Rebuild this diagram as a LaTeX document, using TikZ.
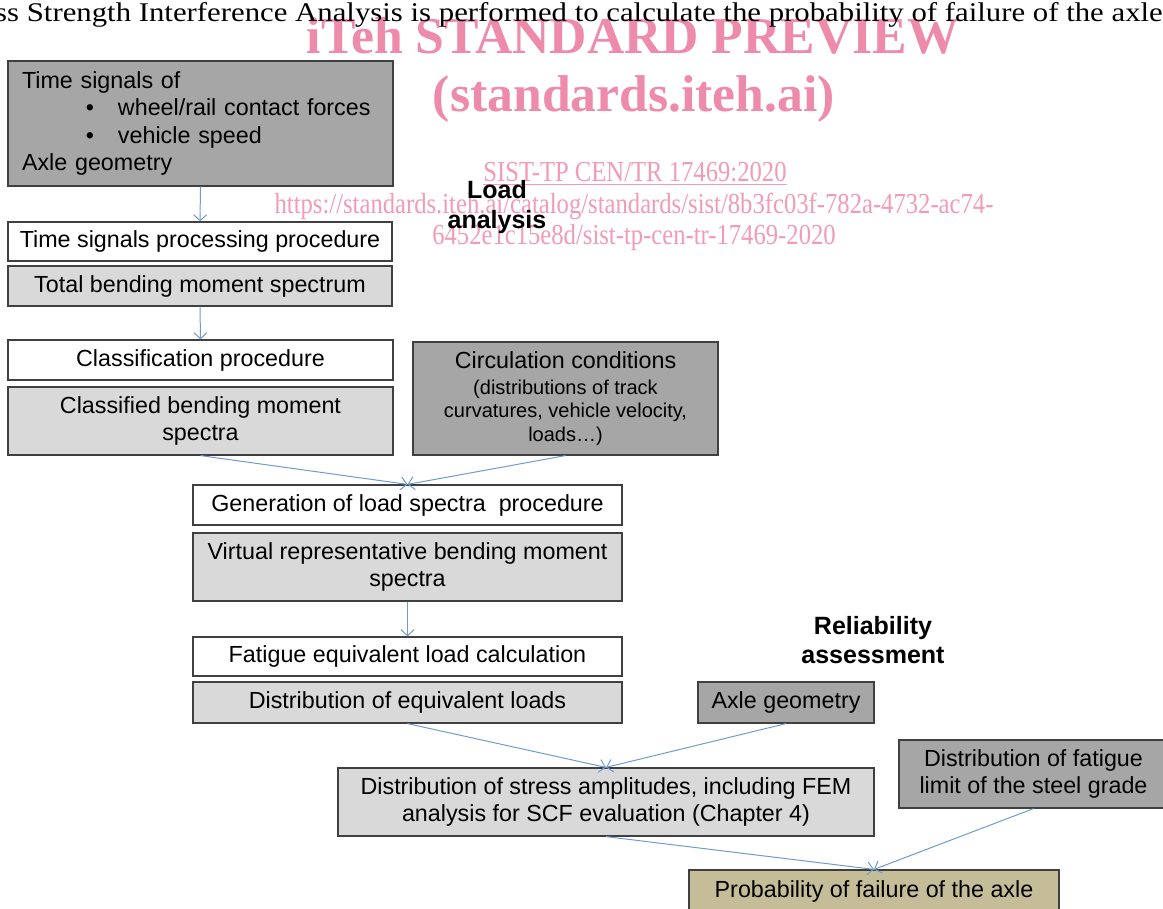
\documentclass[tikz,border=0pt]{standalone}
\usepackage{fontspec}
\setmainfont{Liberation Sans}
\newfontfamily\timesfont{Liberation Serif}
\newfontfamily\linkfont[FakeStretch=0.85]{Liberation Serif}
\newfontfamily\introfont[FakeStretch=1.14]{Liberation Serif}
\usetikzlibrary{arrows.meta, positioning}
\definecolor{darkbox}{HTML}{A6A6A6}
\definecolor{lightbox}{HTML}{D9D9D9}
\definecolor{khakibox}{HTML}{C4BD97}
\definecolor{flowblue}{HTML}{6F9BD1}
\definecolor{wmpink}{HTML}{EE8AAA}
\definecolor{wmlink}{HTML}{F29BB5}
\newcommand{\subsize}{\fontsize{20}{23.5}\selectfont}
\tikzset{
	box/.style = {draw=black!75, line width=1.2pt, inner sep=0pt, align=center,
		font=\fontsize{23.3}{27.5}\selectfont},
	procbox/.style = {box, fill=white},
	resbox/.style = {box, fill=lightbox},
	databox/.style = {box, fill=darkbox},
	flow/.style = {->, flowblue, line width=1pt},
	heading/.style = {align=center, inner sep=0pt, font=\bfseries\fontsize{25}{29.5}\selectfont},
	wmbig/.style = {wmpink, inner sep=0pt, anchor=base, font=\timesfont\bfseries\fontsize{51.7}{58}\selectfont},
	wmsmall/.style = {wmlink, inner sep=0pt, anchor=base, font=\linkfont\fontsize{29}{31}\selectfont},
}

\begin{document}
\begin{tikzpicture}[x=1pt, y=-1pt, >={Straight Barb[length=6pt, width=13pt]}]
	\clip (0,0) rectangle (1163,909);
	\fill[white] (0,0) rectangle (1163,909);
	%%% Watermark
	\node[wmbig] (wmtitle) at (633,54) {iTeh STANDARD PREVIEW};
	\node[wmbig] (wmsite) at (634,112) {(standards.iteh.ai)};
	\node[wmsmall] (wmref) at (635,182) {\underline{SIST-TP CEN/TR 17469:2020}};
	\node[wmsmall] (wmurl) at (634,214) {https://standards.iteh.ai/catalog/standards/sist/8b3fc03f-782a-4732-ac74-};
	\node[wmsmall] (wmurlb) at (634,245) {6452e1c15e8d/sist-tp-cen-tr-17469-2020};
	\node[anchor=base west, inner sep=0pt, font=\introfont\fontsize{27}{30}\selectfont] (intro) at (-5,22)
		{ss Strength Interference Analysis is performed to calculate the probability of failure of the axle};
	%%% Load analysis
	\node[databox, minimum width=385pt, minimum height=125pt, text width=357pt, align=left] (inp) at (200.5,123.5)
		{Time signals of\\
		\makebox[96pt][l]{\hspace*{64pt}\textbullet}wheel/rail contact forces\\
		\makebox[96pt][l]{\hspace*{64pt}\textbullet}vehicle speed\\
		Axle geometry};
	\node[procbox, minimum width=384pt, minimum height=39pt] (tsp) at (200,241.5) {Time signals processing procedure};
	\node[resbox, minimum width=384pt, minimum height=40pt] (tbm) at (200,286) {Total bending moment spectrum};
	\node[procbox, minimum width=385pt, minimum height=40pt] (cls) at (200.5,360) {Classification procedure};
	\node[resbox, minimum width=385pt, minimum height=68pt] (cbm) at (200.5,421) {Classified bending moment\\spectra};
	\node[databox, minimum width=305pt, minimum height=113pt] (circ) at (565.5,398.5)
		{Circulation conditions\\[-1.5pt]
		\subsize (distributions of track\\[-4pt] \subsize curvatures, vehicle velocity,\\[-4pt] \subsize loads\dots)};
	\node[procbox, minimum width=429pt, minimum height=40pt] (gen) at (407.5,505) {Generation of load spectra\ \ procedure};
	\node[resbox, minimum width=429pt, minimum height=68pt] (vrb) at (407.5,567) {Virtual representative bending moment\\spectra};
	\node[procbox, minimum width=429pt, minimum height=39pt] (fel) at (407.5,656.5) {Fatigue equivalent load calculation};
	\node[resbox, minimum width=429pt, minimum height=41pt] (deq) at (407.5,702.5) {Distribution of equivalent loads};
	\node[heading] (loadlbl) at (497,207) {Load\\analysis};
	%%% Reliability assessment
	\node[heading] (rellbl) at (873,640) {Reliability\\assessment};
	\node[databox, minimum width=176pt, minimum height=41pt] (axg) at (786,702.5) {Axle geometry};
	\node[resbox, minimum width=536pt, minimum height=68pt] (dsa) at (606,802)
		{Distribution of stress amplitudes, including FEM\\analysis for SCF evaluation (Chapter 4)};
	\node[databox, minimum width=269pt, minimum height=68pt] (dfl) at (1033.5,774)
		{Distribution of fatigue\\limit of the steel grade};
	\node[box, fill=khakibox, minimum width=370pt, minimum height=42pt] (pfa) at (874,891) {Probability of failure of the axle};
	% Arrows
	\draw[flow] (inp.south) -- (tsp.north);
	\draw[flow] (tbm.south) -- (cls.north);
	\draw[flow] (cbm.south) -- (gen.north);
	\draw[flow] (circ.south) -- (gen.north);
	\draw[flow] (vrb.south) -- (fel.north);
	\draw[flow] (deq.south) -- (dsa.north);
	\draw[flow] (axg.south) -- (dsa.north);
	\draw[flow] (dsa.south) -- (pfa.north);
	\draw[flow] (dfl.south) -- (pfa.north);
\end{tikzpicture}
\end{document}
